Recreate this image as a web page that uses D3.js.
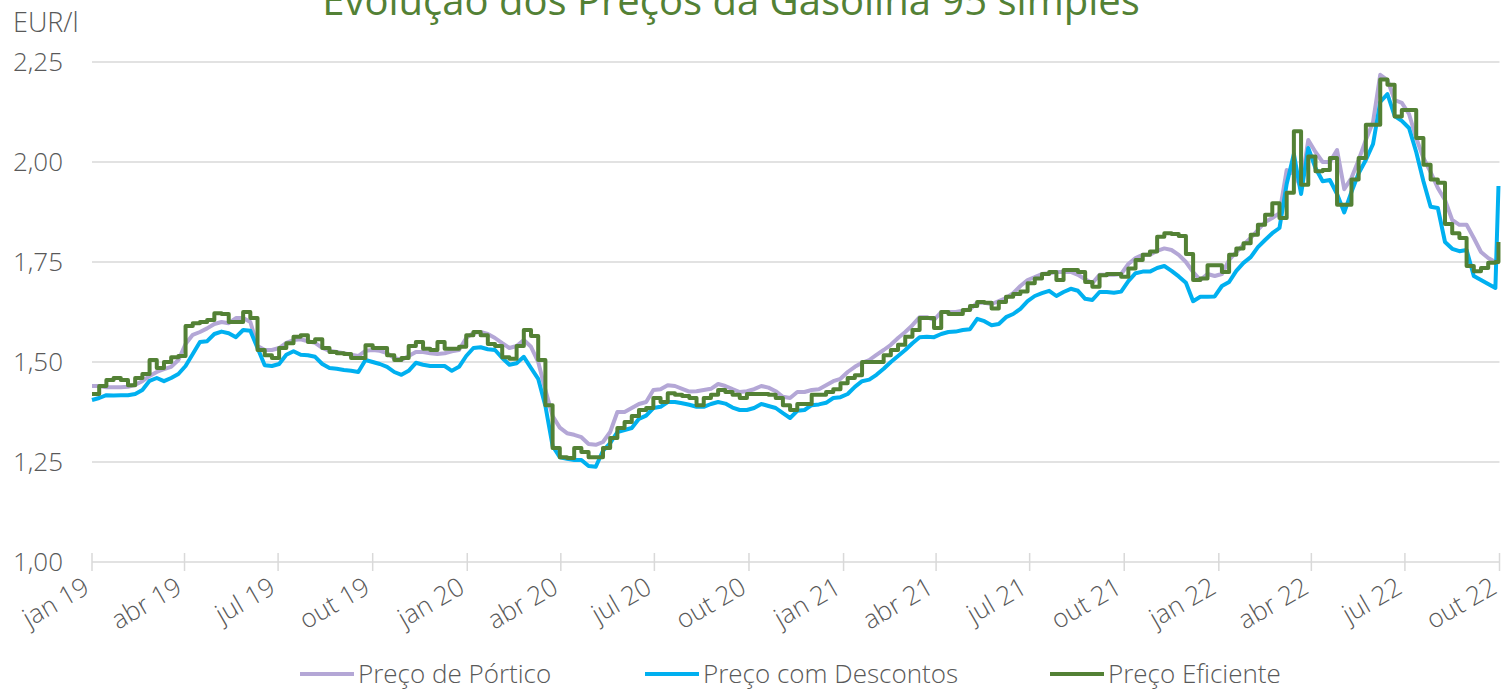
<!DOCTYPE html>
<html>
<head>
<meta charset="utf-8">
<script src="https://cdn.jsdelivr.net/npm/d3@7"></script>
<style>
  body { margin: 0; background: white; }
  text { font-family: "Open Sans", sans-serif; font-weight: 300; }
</style>
</head>
<body>
<div id="container"></div>
<script>
// weekly prices (EUR/l), first week starts 2019-01-01, last value is 2022-09-30
let porticoValues = [
  1.44, 1.44, 1.437, 1.437, 1.437, 1.438, 1.443, 1.452, 1.465, 1.475,
  1.482, 1.488, 1.505, 1.545, 1.568, 1.575, 1.584, 1.595, 1.60, 1.597,
  1.61, 1.61, 1.60, 1.54, 1.53, 1.53, 1.535, 1.548, 1.555, 1.557,
  1.552, 1.548, 1.535, 1.528, 1.525, 1.522, 1.518, 1.515, 1.528, 1.53,
  1.528, 1.522, 1.51, 1.505, 1.515, 1.525, 1.525, 1.522, 1.52, 1.522,
  1.527, 1.53, 1.56, 1.573, 1.575, 1.57, 1.56, 1.547, 1.535, 1.54,
  1.555, 1.538, 1.50, 1.43, 1.365, 1.336, 1.322, 1.318, 1.312, 1.295,
  1.293, 1.30, 1.325, 1.375, 1.375, 1.385, 1.395, 1.40, 1.43, 1.432,
  1.442, 1.44, 1.433, 1.426, 1.427, 1.43, 1.433, 1.445, 1.44, 1.432,
  1.425, 1.427, 1.432, 1.44, 1.436, 1.427, 1.413, 1.41, 1.425, 1.425,
  1.43, 1.432, 1.442, 1.452, 1.458, 1.475, 1.488, 1.498, 1.505, 1.518,
  1.53, 1.543, 1.56, 1.575, 1.592, 1.612, 1.612, 1.605, 1.625, 1.625,
  1.625, 1.628, 1.632, 1.648, 1.648, 1.645, 1.652, 1.66, 1.672, 1.69,
  1.705, 1.712, 1.72, 1.722, 1.725, 1.725, 1.725, 1.718, 1.707, 1.697,
  1.718, 1.718, 1.718, 1.72, 1.745, 1.76, 1.768, 1.768, 1.778, 1.784,
  1.78, 1.768, 1.75, 1.725, 1.705, 1.72, 1.715, 1.72, 1.755, 1.775,
  1.793, 1.81, 1.83, 1.85, 1.86, 1.872, 1.98, 1.97, 1.937, 2.055,
  2.025, 2.0, 2.0, 2.03, 1.932, 1.96, 2.005, 2.055, 2.10, 2.218,
  2.205, 2.155, 2.148, 2.12, 2.06, 2.01, 1.975, 1.935, 1.905, 1.855,
  1.843, 1.843, 1.81, 1.775, 1.76, 1.75, 1.745
];

let descontosValues = [
  1.405, 1.41, 1.417, 1.416, 1.417, 1.417, 1.42, 1.43, 1.453, 1.46,
  1.452, 1.46, 1.47, 1.49, 1.52, 1.55, 1.552, 1.57, 1.576, 1.572,
  1.562, 1.58, 1.578, 1.535, 1.492, 1.49, 1.495, 1.518, 1.527, 1.518,
  1.517, 1.513, 1.495, 1.485, 1.483, 1.48, 1.478, 1.475, 1.505, 1.50,
  1.495, 1.488, 1.475, 1.468, 1.478, 1.498, 1.493, 1.49, 1.49, 1.49,
  1.478, 1.488, 1.515, 1.535, 1.537, 1.532, 1.53, 1.51, 1.493, 1.497,
  1.513, 1.485, 1.458, 1.39, 1.29, 1.262, 1.258, 1.255, 1.255, 1.24,
  1.238, 1.278, 1.297, 1.325, 1.33, 1.335, 1.358, 1.366, 1.385, 1.388,
  1.40, 1.40, 1.397, 1.393, 1.388, 1.388, 1.395, 1.40, 1.396, 1.386,
  1.38, 1.38, 1.385, 1.395, 1.39, 1.385, 1.372, 1.36, 1.378, 1.38,
  1.392, 1.394, 1.398, 1.41, 1.412, 1.42, 1.438, 1.452, 1.456, 1.468,
  1.483, 1.50, 1.515, 1.53, 1.547, 1.562, 1.563, 1.562, 1.57, 1.575,
  1.576, 1.58, 1.582, 1.608, 1.602, 1.592, 1.595, 1.612, 1.62, 1.633,
  1.652, 1.665, 1.672, 1.678, 1.665, 1.675, 1.683, 1.678, 1.658, 1.655,
  1.675, 1.675, 1.673, 1.676, 1.702, 1.722, 1.726, 1.726, 1.735, 1.74,
  1.728, 1.714, 1.698, 1.652, 1.663, 1.663, 1.664, 1.69, 1.70, 1.728,
  1.748, 1.762, 1.787, 1.805, 1.822, 1.835, 1.945, 2.02, 1.92, 2.035,
  1.985, 1.952, 1.955, 1.92, 1.874, 1.925, 1.972, 2.005, 2.045, 2.15,
  2.17, 2.115, 2.103, 2.085, 2.025, 1.952, 1.888, 1.885, 1.80, 1.783,
  1.777, 1.78, 1.715, 1.705, 1.695, 1.685, 1.94
];

let eficienteValues = [
  1.42, 1.44, 1.455, 1.46, 1.455, 1.442, 1.46, 1.47, 1.505, 1.485,
  1.50, 1.512, 1.515, 1.59, 1.597, 1.60, 1.605, 1.622, 1.62, 1.60,
  1.60, 1.625, 1.61, 1.53, 1.517, 1.51, 1.535, 1.547, 1.563, 1.567,
  1.55, 1.557, 1.535, 1.525, 1.522, 1.52, 1.51, 1.51, 1.542, 1.535,
  1.535, 1.517, 1.505, 1.51, 1.54, 1.55, 1.533, 1.53, 1.55, 1.533,
  1.533, 1.538, 1.567, 1.575, 1.567, 1.545, 1.54, 1.512, 1.508, 1.54,
  1.58, 1.565, 1.505, 1.392, 1.285, 1.262, 1.26, 1.285, 1.275, 1.262,
  1.262, 1.285, 1.31, 1.335, 1.35, 1.365, 1.38, 1.385, 1.41, 1.40,
  1.422, 1.418, 1.415, 1.41, 1.392, 1.41, 1.418, 1.43, 1.425, 1.418,
  1.41, 1.42, 1.42, 1.42, 1.418, 1.41, 1.392, 1.38, 1.395, 1.395,
  1.418, 1.418, 1.425, 1.432, 1.447, 1.46, 1.467, 1.50, 1.50, 1.50,
  1.517, 1.53, 1.543, 1.563, 1.58, 1.61, 1.61, 1.585, 1.625, 1.62,
  1.62, 1.63, 1.64, 1.65, 1.648, 1.634, 1.65, 1.663, 1.67, 1.676,
  1.697, 1.709, 1.72, 1.725, 1.705, 1.73, 1.73, 1.725, 1.70, 1.688,
  1.717, 1.72, 1.72, 1.713, 1.734, 1.755, 1.768, 1.776, 1.813, 1.822,
  1.82, 1.815, 1.77, 1.705, 1.709, 1.742, 1.742, 1.725, 1.768, 1.784,
  1.797, 1.818, 1.843, 1.868, 1.897, 1.86, 1.923, 2.077, 1.943, 2.014,
  1.977, 1.98, 2.01, 1.893, 1.893, 1.956, 2.01, 2.093, 2.093, 2.206,
  2.193, 2.114, 2.13, 2.13, 2.06, 1.993, 1.956, 1.948, 1.845, 1.822,
  1.81, 1.74, 1.727, 1.735, 1.748, 1.75, 1.80
];

let seriesNames = ["Preço de Pórtico", "Preço com Descontos", "Preço Eficiente"];
let seriesColors = ["#b4a7d6", "#00b0f0", "#538135"];
let yTicks = [1.00, 1.25, 1.50, 1.75, 2.00, 2.25];
let monthNames = ["jan", "fev", "mar", "abr", "mai", "jun", "jul", "ago", "set", "out", "nov", "dez"];

let w = 1501;
let h = 690;
let plotLeft = 92;
let plotRight = 1499.5;
let plotTop = 62;
let plotBottom = 562;

let viz = d3.select("#container")
  .append("svg")
  .attr("width", w)
  .attr("height", h)
  .style("background-color", "white");

// dates: weekly steps, last point on 30 Sep 2022
let dates = porticoValues.map(function (d, i) {
  if (i == porticoValues.length - 1) return new Date(2022, 8, 30);
  return d3.timeDay.offset(new Date(2019, 0, 1), 7 * i);
});

let xScale = d3.scaleTime()
  .domain([new Date(2019, 0, 1), new Date(2022, 9, 1)])
  .range([plotLeft, plotRight]);

let yScale = d3.scaleLinear().domain([1, 2.25]).range([plotBottom, plotTop]);

// gridlines + y labels
viz.selectAll(".grid")
  .data(yTicks)
  .enter()
  .append("line")
  .attr("x1", plotLeft)
  .attr("x2", plotRight)
  .attr("y1", function (d) { return yScale(d); })
  .attr("y2", function (d) { return yScale(d); })
  .attr("stroke", "#d9d9d9")
  .attr("stroke-width", 1.5);

viz.selectAll(".ylabel")
  .data(yTicks)
  .enter()
  .append("text")
  .attr("x", 63)
  .attr("y", function (d) { return yScale(d) + 9; })
  .attr("text-anchor", "end")
  .attr("fill", "#595959")
  .attr("font-size", 26)
  .text(function (d) { return d3.format(".2f")(d).replace(".", ","); });

viz.append("text")
  .attr("x", 13)
  .attr("y", 32)
  .attr("fill", "#595959")
  .attr("font-size", 27)
  .text("EUR/l");

// x axis ticks
let xTicks = d3.timeMonth.every(3).range(new Date(2019, 0, 1), new Date(2022, 9, 2));

viz.selectAll(".xtick")
  .data(xTicks)
  .enter()
  .append("line")
  .attr("x1", function (d) { return xScale(d); })
  .attr("x2", function (d) { return xScale(d); })
  .attr("y1", plotBottom - 9)
  .attr("y2", plotBottom + 9)
  .attr("stroke", "#d9d9d9")
  .attr("stroke-width", 1.5);

viz.selectAll(".xlabel")
  .data(xTicks)
  .enter()
  .append("text")
  .attr("text-anchor", "end")
  .attr("fill", "#595959")
  .attr("font-size", 26)
  .attr("transform", function (d) {
    return "translate(" + (xScale(d) - 1) + "," + 592 + ") rotate(-30)";
  })
  .text(function (d) {
    return monthNames[d.getMonth()] + " " + String(d.getFullYear()).slice(2);
  });

// lines
let allValues = [porticoValues, descontosValues, eficienteValues];

allValues.forEach(function (values, k) {
  let line = d3.line()
    .x(function (d, i) { return xScale(dates[i]); })
    .y(function (d) { return yScale(d); });
  if (k == 2) {
    line.curve(d3.curveStepAfter);
  }
  viz.append("path")
    .datum(values)
    .attr("d", line)
    .attr("fill", "none")
    .attr("stroke", seriesColors[k])
    .attr("stroke-width", 4)
    .attr("stroke-linejoin", "round");
});

// title (cut at the top like the original)
viz.append("text")
  .attr("x", 731)
  .attr("y", 15)
  .attr("text-anchor", "middle")
  .attr("fill", "#538135")
  .attr("font-size", 40)
  .style("font-weight", 400)
  .text("Evolução dos Preços da Gasolina 95 simples");

// legend
let legendX = [300, 645, 1050];

viz.selectAll(".legline")
  .data(seriesNames)
  .enter()
  .append("line")
  .attr("x1", function (d, i) { return legendX[i]; })
  .attr("x2", function (d, i) { return legendX[i] + 54; })
  .attr("y1", 674)
  .attr("y2", 674)
  .attr("stroke", function (d, i) { return seriesColors[i]; })
  .attr("stroke-width", 4);

viz.selectAll(".legtext")
  .data(seriesNames)
  .enter()
  .append("text")
  .attr("x", function (d, i) { return legendX[i] + 58; })
  .attr("y", 683)
  .attr("fill", "#595959")
  .attr("font-size", 26)
  .text(function (d) { return d; });
</script>
</body>
</html>
